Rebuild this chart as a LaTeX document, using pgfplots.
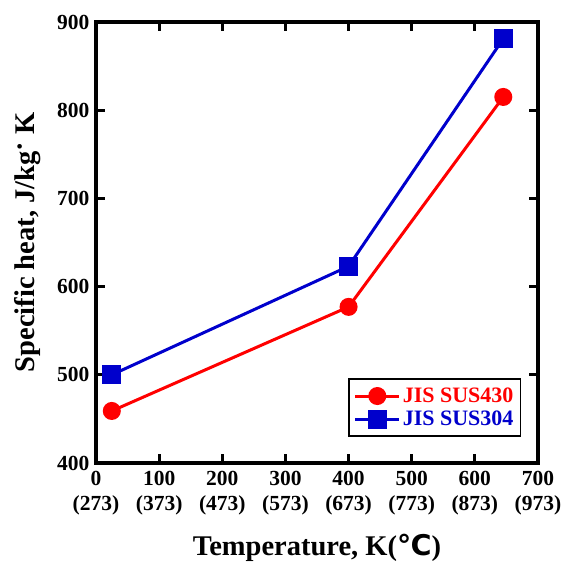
\documentclass[border=0pt]{standalone}
\usepackage{pgfplots}
\pgfplotsset{compat=1.18}
\usepackage{fontspec}
\setmainfont{Liberation Serif}
\newfontfamily\dejavu{DejaVu Sans}
\definecolor{myred}{RGB}{255,0,0}
\definecolor{myblue}{RGB}{0,0,204}
\begin{document}
\begin{tikzpicture}
\begin{axis}[
  scale only axis, width=442pt, height=441pt,
  xmin=0, xmax=700, ymin=400, ymax=900,
  xtick={0,100,200,300,400,500,600,700},
  xticklabels={{0\\(273)},{100\\(373)},{200\\(473)},{300\\(573)},{400\\(673)},{500\\(773)},{600\\(873)},{700\\(973)}},
  xticklabel style={align=center, font=\fontsize{21.5}{25}\selectfont\bfseries, yshift=-5pt},
  ytick={400,500,600,700,800,900},
  yticklabel style={font=\fontsize{21.5}{23}\selectfont\bfseries, xshift=-3pt},
  /pgf/number format/assume math mode=true,
  tick align=inside,
  major tick length=9pt,
  axis line style={line width=4pt},
  every tick/.style={black, line width=3pt},
  xlabel={Temperature, K({\dejavu\bfseries ℃})},
  ylabel={Specific heat, J/kg\raisebox{0.2em}{·} K},
  xlabel style={at={(rel axis cs:0.5,0)}, anchor=center, yshift=-85pt, font=\fontsize{28.5}{30}\selectfont\bfseries},
  ylabel style={at={(rel axis cs:0,0.5)}, anchor=center, yshift=68pt, font=\fontsize{28.5}{30}\selectfont\bfseries},
  legend style={at={(0.962,0.059)}, anchor=south east, draw=black, line width=1.5pt,
    font=\fontsize{22}{24}\selectfont\bfseries, inner xsep=5pt, inner ysep=7pt, row sep=3pt},
  legend cell align=left,
  legend image code/.code={\draw[mark repeat=2,mark phase=2] plot coordinates {(0pt,0pt)(22pt,0pt)(44pt,0pt)};},
]
\addplot[myred, line width=3pt, mark=*, mark size=7.5pt, mark options={solid, fill=myred}]
  coordinates {(25,459) (400,577) (645,815)};
\addlegendentry{\textcolor{myred}{JIS SUS430}}
\addplot[myblue, line width=3pt, mark=square*, mark size=8pt, mark options={solid, fill=myblue}]
  coordinates {(25,500) (400,623) (645,881)};
\addlegendentry{\textcolor{myblue}{JIS SUS304}}
\end{axis}
\pgfresetboundingbox
\path[use as bounding box] ([xshift=-96pt,yshift=-102pt]current axis.south west) rectangle ([xshift=25pt,yshift=22pt]current axis.north east);
\end{tikzpicture}
\end{document}
